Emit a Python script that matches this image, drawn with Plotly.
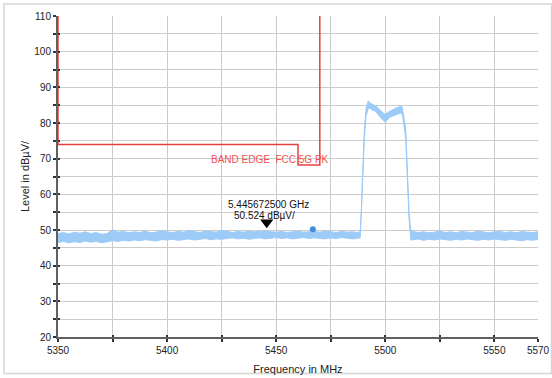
import plotly.graph_objects as go

# ---------------- data ----------------
FREQ_LEFT = [5350, 5352.5, 5355, 5357.5, 5360, 5362.5, 5365, 5367.5, 5370, 5372.5,
             5375, 5377.5, 5380, 5382.5, 5385, 5387.5, 5390, 5392.5, 5395, 5397.5,
             5400, 5402.5, 5405, 5407.5, 5410, 5412.5, 5415, 5417.5, 5420, 5422.5,
             5425, 5427.5, 5430, 5432.5, 5435, 5437.5, 5440, 5442.5, 5445, 5447.5,
             5450, 5452.5, 5455, 5457.5, 5460, 5462.5, 5465, 5467.5, 5470, 5472.5,
             5475, 5477.5, 5480, 5482.5, 5485, 5487.5]
UPPER_LEFT = [49.0, 49.3, 48.9, 49.4, 49.1, 49.5, 49.0, 49.3, 48.8, 49.0,
              50.1, 49.4, 49.6, 49.2, 49.5, 49.3, 49.7, 49.2, 49.4, 49.8,
              49.5, 49.3, 49.6, 49.4, 49.8, 49.5, 49.3, 49.7, 49.5, 49.4,
              49.9, 49.5, 49.3, 49.6, 49.4, 49.7, 49.5, 49.6, 49.8, 49.5,
              49.4, 49.6, 49.3, 49.5, 49.7, 49.4, 49.5, 49.6, 49.4, 49.7,
              49.5, 49.3, 49.6, 49.4, 49.5, 49.3]
LOWER_LEFT = [46.5, 46.8, 46.4, 46.7, 46.5, 46.9, 46.6, 46.8, 46.4, 46.7,
              47.0, 46.8, 47.1, 46.9, 47.2, 47.0, 47.3, 47.1, 46.9, 47.3,
              47.2, 47.4, 47.1, 47.3, 47.5, 47.2, 47.4, 47.6, 47.3, 47.5,
              47.4, 47.6, 47.8, 47.5, 47.7, 47.4, 47.6, 47.8, 47.5, 47.7,
              47.9, 47.6, 47.8, 47.5, 47.7, 47.9, 47.6, 47.8, 47.7, 47.5,
              47.8, 47.6, 47.9, 47.7, 47.5, 47.7]

FREQ_PEAK = [5488.5, 5489.0, 5489.5, 5490.4, 5491.2, 5492.2, 5493, 5494, 5495, 5496,
             5497, 5498, 5499, 5500, 5501, 5502, 5503, 5504, 5505, 5506,
             5507, 5507.8, 5508.5, 5509.4, 5510.3, 5510.9, 5511.7]
UPPER_PEAK = [49.6, 54.8, 64.0, 78.0, 84.0, 86.2, 85.6, 85.3, 84.9, 84.6,
              84.0, 83.5, 82.8, 82.3, 82.9, 83.3, 83.6, 83.9, 84.2, 84.4,
              84.7, 84.5, 82.0, 78.0, 64.0, 54.8, 49.7]
LOWER_PEAK = [47.8, 53.5, 62.0, 75.5, 82.0, 84.0, 84.2, 83.6, 83.4, 82.9,
              82.3, 81.6, 80.8, 80.2, 80.9, 81.6, 81.9, 82.2, 82.4, 82.6,
              82.8, 82.5, 79.5, 75.5, 62.0, 53.0, 47.2]

FREQ_RIGHT = [5512.5, 5515, 5517.5, 5520, 5522.5, 5525, 5527.5, 5530, 5532.5, 5535,
              5537.5, 5540, 5542.5, 5545, 5547.5, 5550, 5552.5, 5555, 5557.5, 5560,
              5562.5, 5565, 5567.5, 5570]
UPPER_RIGHT = [49.6, 49.3, 49.5, 49.2, 49.4, 49.7, 49.3, 49.5, 49.2, 49.6,
               49.4, 49.3, 49.7, 49.4, 49.2, 49.5, 49.6, 49.3, 49.5, 49.2,
               49.6, 49.4, 49.3, 49.5]
LOWER_RIGHT = [47.2, 47.5, 47.1, 47.4, 47.2, 47.5, 47.3, 47.1, 47.4, 47.2,
               47.5, 47.3, 47.1, 47.4, 47.2, 47.5, 47.3, 47.1, 47.4, 47.2,
               47.0, 47.3, 47.1, 47.4]

LIMIT_FREQ = [5350, 5350, 5460, 5460, 5470, 5470]
LIMIT_LEVEL = [110, 74, 74, 68.2, 68.2, 110]
LIMIT_LABEL = "BAND EDGE \u00a0FCC 5G PK"

MARKER_FREQ = 5445.6725
MARKER_LEVEL = 50.524
MARKER_TEXT1 = "5.445672500 GHz"
MARKER_TEXT2 = "50.524 dBµV/"
D2_FREQ = 5466.8
D2_LEVEL = 50.2

X_TICKS = [5350, 5375, 5400, 5425, 5450, 5475, 5500, 5525, 5550, 5570]
X_TICK_TEXT = ["5350", "", "5400", "", "5450", "", "5500", "", "5550", "5570"]
Y_TICKS = [20, 25, 30, 35, 40, 45, 50, 55, 60, 65, 70, 75, 80, 85, 90, 95, 100, 105, 110]
Y_TICK_TEXT = ["20", "", "30", "", "40", "", "50", "", "60", "", "70", "", "80", "",
               "90", "", "100", "", "110"]
X_RANGE = [5350, 5570]
Y_RANGE = [20, 110]

# ---------------- layout geometry ----------------
W, H = 552, 378
ML, MR, MT, MB = 58, 14, 16, 41
PLOT_W = W - ML - MR
PLOT_H = H - MT - MB
PX_PER_DB = PLOT_H / (Y_RANGE[1] - Y_RANGE[0])

FONT = "Liberation Sans, Arial, sans-serif"
TRACE_COLOR = "#9ccbf7"
LIMIT_COLOR = "#e8413c"

freq = FREQ_LEFT + FREQ_PEAK + FREQ_RIGHT
upper = UPPER_LEFT + UPPER_PEAK + UPPER_RIGHT
lower = LOWER_LEFT + LOWER_PEAK + LOWER_RIGHT

fig = go.Figure()

# spectrum trace (band between the min/max of the noisy trace)
fig.add_trace(go.Scatter(
    x=freq + freq[::-1], y=upper + lower[::-1],
    mode="lines", fill="toself", fillcolor=TRACE_COLOR,
    line=dict(color=TRACE_COLOR, width=1), hoverinfo="skip", showlegend=False))

# limit line
fig.add_trace(go.Scatter(
    x=LIMIT_FREQ, y=LIMIT_LEVEL, mode="lines",
    line=dict(color=LIMIT_COLOR, width=1.5), showlegend=False))

# D2 dot
fig.add_trace(go.Scatter(
    x=[D2_FREQ], y=[D2_LEVEL], mode="markers",
    marker=dict(color="#3d8de0", size=6), showlegend=False))

# marker triangle (tip at the marker level)
TRI_SIZE = 11.5
fig.add_trace(go.Scatter(
    x=[MARKER_FREQ], y=[MARKER_LEVEL + (TRI_SIZE / 2) / PX_PER_DB], mode="markers",
    marker=dict(symbol="triangle-down", color="black", size=TRI_SIZE, line=dict(width=0)),
    cliponaxis=False, showlegend=False))

# empty trace for the overlay axes (inner half of the cross ticks)
fig.add_trace(go.Scatter(x=[None], y=[None], xaxis="x2", yaxis="y2", showlegend=False))

fig.add_annotation(x=MARKER_FREQ, y=MARKER_LEVEL, text=MARKER_TEXT1, showarrow=False,
                   xshift=2, yshift=24, font=dict(size=10, color="#111", family=FONT))
fig.add_annotation(x=MARKER_FREQ, y=MARKER_LEVEL, text=MARKER_TEXT2, showarrow=False,
                   xshift=-2, yshift=13, font=dict(size=10, color="#111", family=FONT))
fig.add_annotation(x=5447.2, y=69.9, text=LIMIT_LABEL, showarrow=False,
                   font=dict(size=10, color="#f25050", family=FONT))

# outer border around the chart
fig.add_shape(type="rect", xref="paper", yref="paper",
              x0=(4 - ML) / PLOT_W, x1=(W - 0.5 - ML) / PLOT_W,
              y0=(MT + PLOT_H - (H - 4.5)) / PLOT_H,
              y1=(MT + PLOT_H - 4) / PLOT_H,
              line=dict(color="#d6d6d6", width=1.5), layer="below")

axis_common = dict(showgrid=True, gridcolor="#cbcbcb", gridwidth=1, zeroline=False,
                   showline=True, linecolor="#606060", linewidth=2,
                   ticks="outside", ticklen=3, tickwidth=1.5, tickcolor="#333",
                   tickfont=dict(size=10, color="#222", family=FONT),
                   layer="below traces", automargin=False)

overlay_common = dict(ticks="inside", ticklen=2, tickwidth=1.5, tickcolor="#333",
                      showticklabels=False, showgrid=False, showline=False,
                      zeroline=False, automargin=False, tickmode="array")

fig.update_layout(
    width=W, height=H,
    margin=dict(l=ML, r=MR, t=MT, b=MB, autoexpand=False),
    paper_bgcolor="white", plot_bgcolor="white",
    font=dict(family=FONT),
    xaxis=dict(range=X_RANGE, tickmode="array", tickvals=X_TICKS, ticktext=X_TICK_TEXT,
               title=dict(text="Frequency in MHz", font=dict(size=11, color="#222"), standoff=10),
               **axis_common),
    yaxis=dict(range=Y_RANGE, tickmode="array", tickvals=Y_TICKS, ticktext=Y_TICK_TEXT,
               title=dict(text="Level in dBµV/", font=dict(size=11, color="#222"), standoff=2),
               **axis_common),
    xaxis2=dict(range=X_RANGE, overlaying="x", anchor="y2", tickvals=X_TICKS, **overlay_common),
    yaxis2=dict(range=Y_RANGE, overlaying="y", anchor="x2", tickvals=Y_TICKS, **overlay_common),
    showlegend=False,
)

fig.write_html("out.html", config={"displayModeBar": False},
               post_script="document.body.style.margin='0';")
